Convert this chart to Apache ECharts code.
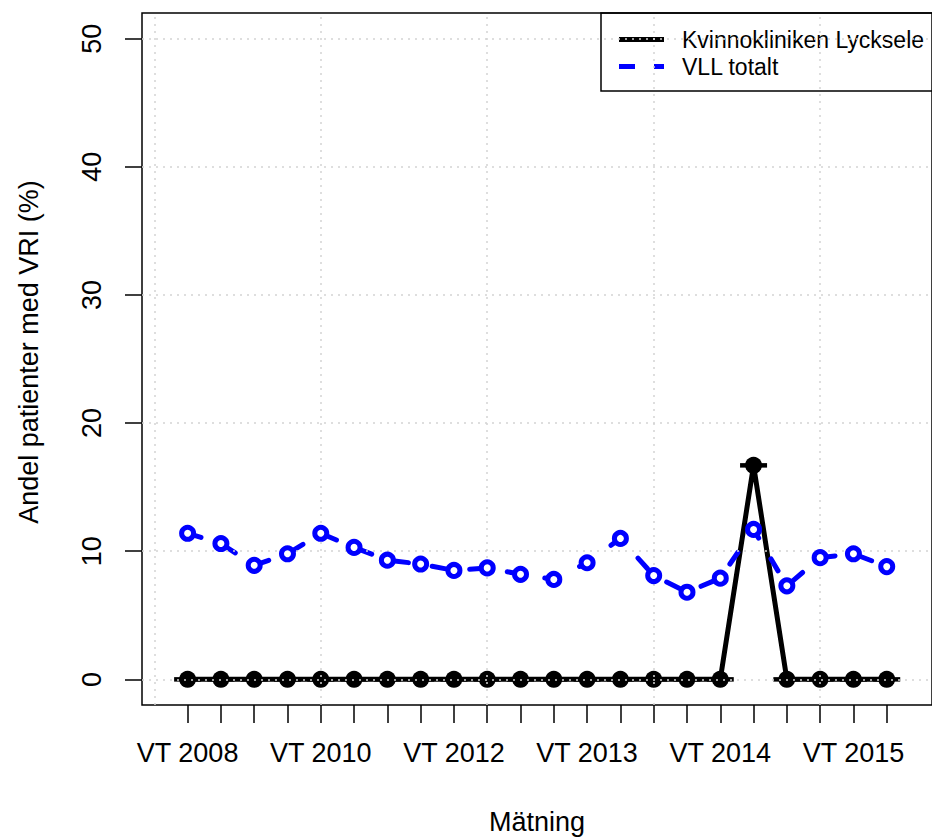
<!DOCTYPE html>
<html><head><meta charset="utf-8">
<script src="https://cdn.jsdelivr.net/npm/echarts@6/dist/echarts.min.js"></script>
<style>html,body{margin:0;padding:0;background:#fff}#c{width:932px;height:840px}</style>
</head><body><div id="c"></div>
<script>
// ---- data ----
const categories = ["VT 2008","HT 2008","VT 2009","HT 2009","VT 2010","HT 2010","VT 2011","HT 2011",
  "VT 2012","2012:2","HT 2012","2012:4","VT 2013","2013:2","HT 2013","2013:4",
  "VT 2014","2014:2","HT 2014","2014:4","VT 2015","2015:2"];
const lyckseleName = "Kvinnokliniken Lycksele";
const vllName = "VLL totalt";
const lycksele = [0,0,0,0,0,0,0,0,0,0,0,0,0,0,0,0,0,16.7,0,0,0,0];
const vll = [11.4,10.6,8.9,9.8,11.4,10.3,9.3,9.0,8.5,8.7,8.2,7.8,9.1,11.0,8.1,6.8,7.9,11.7,7.3,9.5,9.8,8.8];
const yTicks = [0,10,20,30,40,50];
const xLabelIdx = [0,4,8,12,16,20];
const gridX = [0,5,10,15,20];
const yTitle = "Andel patienter med VRI (%)";
const xTitle = "Mätning";

// ---- build ----
const FONT = "Liberation Sans";
const pos = categories.map((c, i) => i + 1);
const lyData = lycksele.map((v, i) => [pos[i], v]);
const vllData = vll.map((v, i) => [pos[i], v]);
const labelVals = xLabelIdx.map(i => pos[i]);

const chart = echarts.init(document.getElementById('c'), null, {renderer: 'svg'});
chart.setOption({
  animation: false,
  backgroundColor: '#fff',
  textStyle: {fontFamily: FONT},
  grid: {left: 142, top: 13, width: 791, height: 693, show: true,
         borderColor: '#000', borderWidth: 1.5, backgroundColor: 'transparent'},
  legend: {
    left: 601, top: 13, orient: 'vertical',
    padding: [15, 24, 13, 18],
    itemWidth: 45, itemHeight: 5, itemGap: 4,
    borderColor: '#000', borderWidth: 1.5,
    itemStyle: {borderWidth: 0},
    textStyle: {fontSize: 23, color: '#000', fontFamily: FONT, padding: [0, 0, 0, 13]},
    data: [
      {name: lyckseleName, icon: 'rect'},
      {name: vllName, icon: 'path://M0,0h16v5h-16zM35,0h10v5h-10z'}
    ]
  },
  xAxis: {
    type: 'value', min: -0.37, max: 23.36,
    axisLine: {show: false, onZero: false},
    splitLine: {show: false},
    axisTick: {show: true, length: 18, lineStyle: {color: '#000', width: 1.5}, customValues: pos},
    axisLabel: {customValues: labelVals, margin: 34, fontSize: 27, color: '#000', fontFamily: FONT,
      formatter: v => categories[Math.round(v) - 1] || ''},
    name: xTitle, nameLocation: 'middle', nameGap: 103,
    nameTextStyle: {fontSize: 27, color: '#000', fontFamily: FONT}
  },
  yAxis: {
    type: 'value', min: -2, max: 52,
    axisLine: {show: false, onZero: false},
    splitLine: {show: false},
    axisTick: {show: true, length: 17, lineStyle: {color: '#000', width: 1.5}, customValues: yTicks},
    axisLabel: {customValues: yTicks, rotate: 90, margin: 37, fontSize: 27, color: '#000', fontFamily: FONT},
    name: yTitle, nameLocation: 'middle', nameGap: 100,
    nameTextStyle: {fontSize: 27, color: '#000', fontFamily: FONT, padding: [0, 0, 0, 14]}
  },
  series: [
    {name: lyckseleName, type: 'line', data: lyData, symbol: 'none', z: 2,
     color: '#000', lineStyle: {color: '#000', width: 5}},
    {name: 'ly-pts', type: 'scatter', data: lyData, symbol: 'circle', symbolSize: 17, z: 3,
     itemStyle: {color: '#000', opacity: 1}},
    {name: 'ly-bars', type: 'scatter', data: lyData, symbol: 'rect', symbolSize: [27, 4.5], z: 3,
     itemStyle: {color: '#000', opacity: 1}},
    {name: vllName, type: 'line', data: vllData, symbol: 'none', z: 4,
     color: '#0000ff', lineStyle: {color: '#0000ff', width: 5, type: [14, 24], cap: 'round'}},
    {name: 'vll-pts', type: 'scatter', data: vllData, symbol: 'circle', symbolSize: 12, z: 5,
     itemStyle: {color: '#fff', borderColor: '#0000ff', borderWidth: 5, opacity: 1}},
    {name: 'grid', type: 'line', data: [], z: 10, silent: true,
     markLine: {silent: true, symbol: ['none', 'none'], label: {show: false},
       lineStyle: {color: '#d3d3d3', width: 1.5, type: [2, 5]},
       emphasis: {disabled: true},
       data: yTicks.map(v => ({yAxis: v})).concat(gridX.map(v => ({xAxis: v})))}}
  ]
});
</script></body></html>
